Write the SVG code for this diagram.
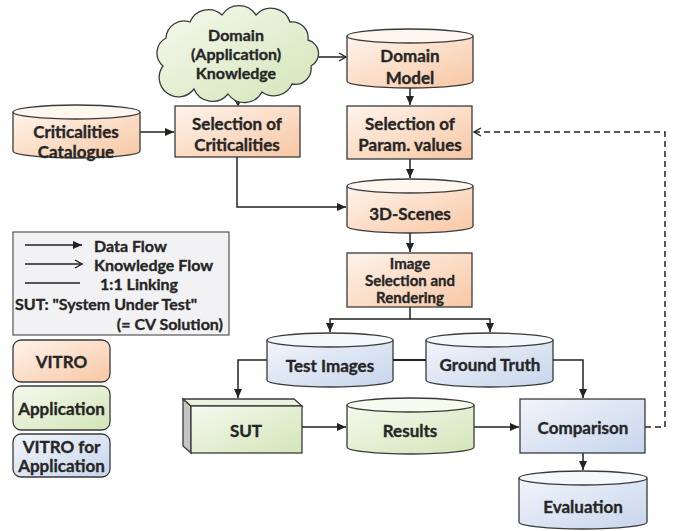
<svg xmlns="http://www.w3.org/2000/svg" width="676" height="531" viewBox="0 0 676 531">
<defs>
<linearGradient id="gO" x1="0" y1="0" x2="1" y2="1"><stop offset="0" stop-color="#fef4ec"/><stop offset="1" stop-color="#f8c7a3"/></linearGradient>
<linearGradient id="gG" x1="0" y1="0" x2="1" y2="1"><stop offset="0" stop-color="#f5f9ee"/><stop offset="1" stop-color="#d3e5b8"/></linearGradient>
<linearGradient id="gB" x1="0" y1="0" x2="1" y2="1"><stop offset="0" stop-color="#f2f5fb"/><stop offset="1" stop-color="#c7d5ec"/></linearGradient>
<marker id="af" markerUnits="userSpaceOnUse" markerWidth="10" markerHeight="10" viewBox="0 0 10 10" refX="9" refY="5" orient="auto"><path d="M0,1 L9,5 L0,9 Z" fill="#222"/></marker>
<marker id="ao" markerUnits="userSpaceOnUse" markerWidth="10" markerHeight="10" viewBox="0 0 10 10" refX="9" refY="5" orient="auto"><path d="M2,1 L9,5 L2,9" fill="none" stroke="#222" stroke-width="1.4"/></marker>
</defs>
<style>
.t{font-family:Lato,"Liberation Sans",sans-serif;font-weight:bold;font-size:17px;fill:#262626;stroke:#262626;stroke-width:0.35;text-anchor:middle;dominant-baseline:central}
.sm{font-size:15px}
.lg{font-size:16px}
.tl{text-anchor:start}
.te{text-anchor:end}
.s{stroke:#3a3a3a;stroke-width:1.3}
.o{fill:url(#gO)}
.g{fill:url(#gG)}
.b{fill:url(#gB)}
.top{stroke:#3a3a3a;stroke-width:1.3}
.c{fill:none;stroke:#222;stroke-width:1.5}
.df{marker-end:url(#af)}
.kf{marker-end:url(#ao)}
</style>

<g id="connectors">
<path class="c kf" d="M313,57 H346"/>
<path class="c kf" d="M238,92 V105"/>
<path class="c df" d="M140,132 H174"/>
<path class="c df" d="M410,88 V105"/>
<path class="c df" d="M410,159 V178"/>
<path class="c df" d="M237,157 V207 H346"/>
<path class="c df" d="M410,233 V252"/>
<path class="c df" d="M410,307 V319 H330 V332"/>
<path class="c df" d="M410,319 H490 V332"/>
<path class="c" style="stroke-width:2" d="M393,360 H426"/>
<path class="c df" d="M267,360 H238 V398"/>
<path class="c df" d="M302,427 H346"/>
<path class="c df" d="M474,427 H519"/>
<path class="c df" d="M553,360 H583 V398"/>
<path class="c df" d="M583,453 V470"/>
<path class="c kf" style="stroke-dasharray:6,4" d="M645,427 H665 V132 H474"/>
</g>

<g id="knowledge">
<path class="s g" d="M163,66 A17,17 0 0 1 166,38 A18,18 0 0 1 190,22 A20,20 0 0 1 222,15 A20,20 0 0 1 256,15 A20,20 0 0 1 290,22 A16,16 0 0 1 308,40 A14,14 0 0 1 311,66 A16,16 0 0 1 292,84 A20,20 0 0 1 262,92 A20,20 0 0 1 228,94 A20,20 0 0 1 194,89 A17,17 0 0 1 163,66 Z"/>
<text class="t lg" x="236" y="34">Domain</text>
<text class="t lg" x="236" y="53">(Application)</text>
<text class="t lg" x="236" y="72">Knowledge</text>
</g>

<g id="domain-model">
<path class="s o" d="M347,36 V81 A63,7 0 0 0 473,81 V36"/>
<ellipse class="top" cx="410" cy="36" rx="63" ry="7" style="fill:#fef6ef"/>
<text class="t" x="410" y="55">Domain</text>
<text class="t" x="410" y="77">Model</text>
</g>

<g id="criticalities-catalogue">
<path class="s o" d="M13,112 V151 A63.5,7 0 0 0 140,151 V112"/>
<ellipse class="top" cx="76.5" cy="112" rx="63.5" ry="7" style="fill:#fef6ef"/>
<text class="t" x="76" y="131">Criticalities</text>
<text class="t" x="76" y="151">Catalogue</text>
</g>

<g id="selection-criticalities">
<rect class="s o" x="175" y="106" width="125" height="51"/>
<text class="t" x="237" y="123">Selection of</text>
<text class="t" x="237" y="144">Criticalities</text>
</g>

<g id="selection-param">
<rect class="s o" x="347" y="106" width="125" height="53"/>
<text class="t" x="410" y="123">Selection of</text>
<text class="t" x="410" y="144">Param. values</text>
</g>

<g id="scenes">
<path class="s o" d="M347,186 V226 A63,7 0 0 0 473,226 V186"/>
<ellipse class="top" cx="410" cy="186" rx="63" ry="7" style="fill:#fef6ef"/>
<text class="t" x="410" y="213">3D-Scenes</text>
</g>

<g id="image-selection">
<rect class="s o" x="347" y="253" width="125" height="54"/>
<text class="t sm" x="410" y="263">Image</text>
<text class="t sm" x="410" y="280">Selection and</text>
<text class="t sm" x="410" y="297">Rendering</text>
</g>

<g id="test-images">
<path class="s b" d="M267,340 V380 A63,7 0 0 0 393,380 V340"/>
<ellipse class="top" cx="330" cy="340" rx="63" ry="7" style="fill:#f4f7fc"/>
<text class="t" x="330" y="365">Test Images</text>
</g>

<g id="ground-truth">
<path class="s b" d="M426,340 V380 A63.5,7 0 0 0 553,380 V340"/>
<ellipse class="top" cx="489.5" cy="340" rx="63.5" ry="7" style="fill:#f4f7fc"/>
<text class="t" x="490" y="364">Ground Truth</text>
</g>

<g id="sut">
<path class="s" d="M183,399 L191,406 V453 L183,446 Z" style="fill:#c4c4c4"/>
<path class="s" d="M183,399 H294 L302,406 H191 Z" style="fill:#ebf2df"/>
<rect class="s g" x="191" y="406" width="111" height="47"/>
<text class="t" x="246" y="430">SUT</text>
</g>

<g id="results">
<path class="s g" d="M347,405 V447 A63.5,7 0 0 0 474,447 V405"/>
<ellipse class="top" cx="410.5" cy="405" rx="63.5" ry="7" style="fill:#f6faef"/>
<text class="t" x="410" y="430">Results</text>
</g>

<g id="comparison">
<rect class="s b" x="520" y="399" width="125" height="54"/>
<text class="t" x="583" y="427">Comparison</text>
</g>

<g id="evaluation">
<path class="s b" d="M519,478 V522 A64,7 0 0 0 647,522 V478"/>
<ellipse class="top" cx="583" cy="478" rx="64" ry="7" style="fill:#f4f7fc"/>
<text class="t" x="583" y="506">Evaluation</text>
</g>

<g id="legend">
<rect x="13" y="232" width="216" height="103" fill="#f2f2f4" stroke="#555" stroke-width="1.2"/>
<path class="c df" d="M25,245 H82"/>
<path class="c kf" d="M25,264 H82"/>
<path class="c" d="M25,283 H80"/>
<text class="t tl lg" x="94" y="245">Data Flow</text>
<text class="t tl lg" x="94" y="264">Knowledge Flow</text>
<text class="t tl lg" x="100" y="283">1:1 Linking</text>
<text class="t tl lg" x="15" y="303">SUT: "System Under Test"</text>
<text class="t te lg" x="223" y="323">(= CV Solution)</text>
</g>

<g id="legend-vitro">
<rect class="s o" x="13" y="340" width="97" height="42" rx="8"/>
<text class="t" x="61.5" y="361">VITRO</text>
</g>
<g id="legend-application">
<rect class="s g" x="13" y="386" width="97" height="44" rx="8"/>
<text class="t" x="61.5" y="408">Application</text>
</g>
<g id="legend-vitro-app">
<rect class="s b" x="13" y="434" width="97" height="43" rx="8"/>
<text class="t" x="61.5" y="446">VITRO for</text>
<text class="t" x="61.5" y="465">Application</text>
</g>
</svg>
